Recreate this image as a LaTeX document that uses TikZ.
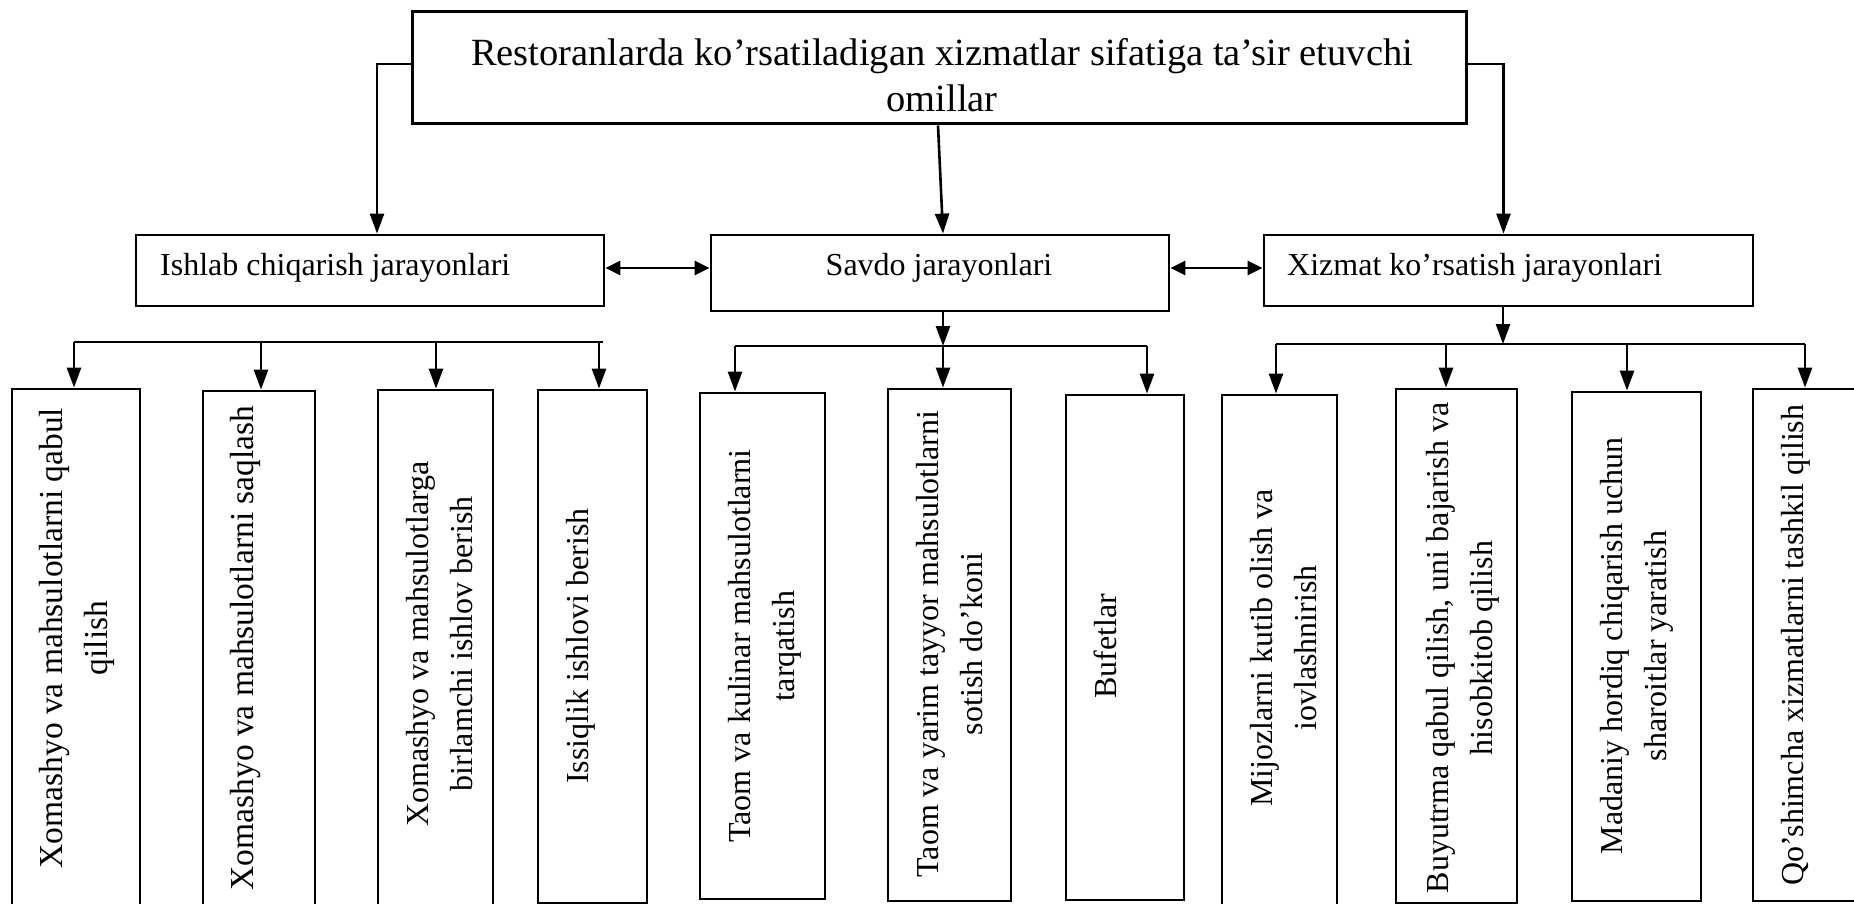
\documentclass[tikz,border=0pt]{standalone}
\usepackage{fontspec}
\setmainfont{Liberation Serif}
\usetikzlibrary{arrows.meta}
\begin{document}
\begin{tikzpicture}[x=1pt,y=-1pt,
  hbox/.style={draw,line width=2.8pt,inner sep=0pt,rectangle},
  arr/.style={line width=2.6pt,-{Triangle[length=20pt,width=14pt]}},
  dbl/.style={line width=2.6pt,{Triangle[length=15pt,width=14pt]}-{Triangle[length=15pt,width=14pt]}},
  bus/.style={line width=2.6pt},
  htxt/.style={inner sep=0pt,font=\fontsize{32}{40}\selectfont},
  ttxt/.style={inner sep=0pt,align=center,font=\fontsize{38.5}{46}\selectfont},
  vtxt/.style={inner sep=0pt,rotate=90,anchor=north,align=center,font=\fontsize{32}{44}\selectfont},
  vbig/.style={font=\fontsize{33.5}{45}\selectfont},
]
\useasboundingbox (0,0) rectangle (1854,904);
\clip (0,0) rectangle (1854,904);
\fill[white] (0,0) rectangle (1854,904);

% top box
\node[hbox,line width=3pt,minimum width=1054pt,minimum height=112pt] (top) at (939,68) {};
\node[ttxt,anchor=base] (topt) at (942,112) {Restoranlarda ko’rsatiladigan xizmatlar sifatiga ta’sir etuvchi\\omillar};

% second level
\node[hbox,minimum width=468pt,minimum height=71pt] (ishl) at (370,270.5) {};
\node[htxt,anchor=base west] (ishlt) at (160,275) {Ishlab chiqarish jarayonlari};
\node[hbox,minimum width=458pt,minimum height=76pt] (sav) at (940,273) {};
\node[htxt,anchor=base] (savt) at (939,275) {Savdo jarayonlari};
\node[hbox,minimum width=489pt,minimum height=71pt] (xiz) at (1508.5,270.5) {};
\node[htxt,anchor=base west] (xizt) at (1287,275) {Xizmat ko’rsatish jarayonlari};

% connectors from top
\draw[arr] ([yshift=4pt]top.west) -| ([xshift=7pt]ishl.north);
\draw[arr] ([yshift=4pt]top.east) -| ([xshift=-5pt]xiz.north);
\draw[arr] ([xshift=-1pt]top.south) -- ([xshift=3pt]sav.north);
\draw[dbl] ([yshift=2.5pt]ishl.east) coordinate (d1) -- (d1 -| sav.west);
\draw[dbl] ([yshift=2.5pt]xiz.west) coordinate (d2) -- (d2 -| sav.east);

% child boxes
\node[hbox,minimum width=128pt,minimum height=526pt] (c1) at (76,652) {};
\node[hbox,minimum width=112pt,minimum height=524pt] (c2) at (259,653) {};
\node[hbox,minimum width=115pt,minimum height=525pt] (c3) at (435.5,652.5) {};
\node[hbox,minimum width=109pt,minimum height=513pt] (c4) at (592.5,646.5) {};
\node[hbox,minimum width=125pt,minimum height=506pt] (c5) at (762.5,646) {};
\node[hbox,minimum width=123pt,minimum height=512pt] (c6) at (949.5,645) {};
\node[hbox,minimum width=118pt,minimum height=505pt] (c7) at (1125,647.5) {};
\node[hbox,minimum width=115pt,minimum height=510pt] (c8) at (1279.5,650) {};
\node[hbox,minimum width=121pt,minimum height=514pt] (c9) at (1456.5,646) {};
\node[hbox,minimum width=129pt,minimum height=509pt] (c10) at (1636.5,646.5) {};
\node[hbox,minimum width=117pt,minimum height=512pt] (c11) at (1811.5,645) {};

% child texts
\node[vtxt,vbig] (t1) at (39,638) {Xomashyo va mahsulotlarni qabul\\qilish};
\node[vtxt,vbig] (t2) at (230,648) {Xomashyo va mahsulotlarni saqlash};
\node[vtxt] (t3) at (406,644) {Xomashyo va mahsulotlarga\\birlamchi ishlov berish};
\node[vtxt] (t4) at (566,646) {Issiqlik ishlovi berish};
\node[vtxt] (t5) at (728,646) {Taom va kulinar mahsulotlarni\\tarqatish};
\node[vtxt] (t6) at (916,644) {Taom va yarim tayyor mahsulotlarni\\sotish do’koni};
\node[vtxt] (t7) at (1094,646) {Bufetlar};
\node[vtxt] (t8) at (1250,648) {Mijozlarni kutib olish va\\iovlashnirish};
\node[vtxt] (t9) at (1426,648) {Buyutrma qabul qilish, uni bajarish va\\hisobkitob qilish};
\node[vtxt] (t10) at (1600,646) {Madaniy hordiq chiqarish uchun\\sharoitlar yaratish};
\node[vtxt] (t11) at (1781,645) {Qo’shimcha xizmatlarni tashkil qilish};

% Ishlab bus
\coordinate (a1) at (74,342);
\coordinate (a2) at (261,342);
\coordinate (a3) at (436,342);
\coordinate (a4) at (599,342);
\coordinate (a5) at (603,342);
\draw[bus] (a1) -- (a5);
\draw[arr] (a1) -- (a1 |- c1.north);
\draw[arr] (a2) -- (a2 |- c2.north);
\draw[arr] (a3) -- (a3 |- c3.north);
\draw[arr] (a4) -- (a4 |- c4.north);

% Savdo bus
\coordinate (s1) at (735,346);
\coordinate (s2) at (943,346);
\coordinate (s3) at (1147,346);
\draw[bus] (s1) -- (s3);
\draw[arr] (s2 |- sav.south) -- (s2);
\draw[arr] (s1) -- (s1 |- c5.north);
\draw[arr] (s2) -- (s2 |- c6.north);
\draw[arr] (s3) -- (s3 |- c7.north);

% Xizmat bus
\coordinate (x1) at (1276,344);
\coordinate (x2) at (1446,344);
\coordinate (x3) at (1627,344);
\coordinate (x4) at (1805,344);
\coordinate (x0) at (1503,344);
\draw[bus] (x1) -- (x4);
\draw[arr] (x0 |- xiz.south) -- (x0);
\draw[arr] (x1) -- (x1 |- c8.north);
\draw[arr] (x2) -- (x2 |- c9.north);
\draw[arr] (x3) -- (x3 |- c10.north);
\draw[arr] (x4) -- (x4 |- c11.north);
\end{tikzpicture}
\end{document}
